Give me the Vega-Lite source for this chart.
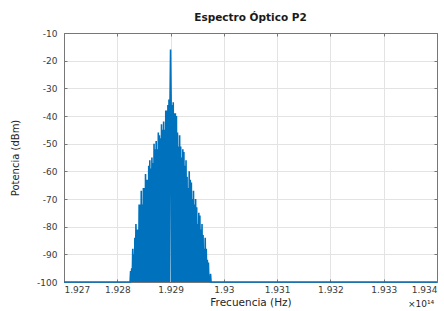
{
  "$schema": "https://vega.github.io/schema/vega-lite/v6.json",
  "width": 373,
  "height": 249,
  "autosize": {"type": "none"},
  "padding": {"left": 64, "top": 33, "right": 7, "bottom": 29},
  "background": "white",
  "config": {
    "view": {"stroke": null},
    "font": "DejaVu Sans"
  },
  "title": {
    "text": "Espectro Óptico P2",
    "font": "DejaVu Sans",
    "fontSize": 10.5,
    "fontWeight": "bold",
    "color": "#1a1a1a",
    "offset": 6,
    "anchor": "middle"
  },
  "data": {
    "values": [
      {"f": 1.927, "p": -100},
      {"f": 1.92824, "p": -100},
      {"f": 1.92825, "p": -96},
      {"f": 1.92826, "p": -100},
      {"f": 1.92827, "p": -95},
      {"f": 1.92828, "p": -100},
      {"f": 1.92829, "p": -88},
      {"f": 1.9283, "p": -100},
      {"f": 1.92831, "p": -90},
      {"f": 1.92832, "p": -100},
      {"f": 1.92833, "p": -84},
      {"f": 1.92834, "p": -100},
      {"f": 1.92835, "p": -79},
      {"f": 1.92836, "p": -100},
      {"f": 1.92837, "p": -81},
      {"f": 1.92838, "p": -100},
      {"f": 1.92839, "p": -81},
      {"f": 1.9284, "p": -100},
      {"f": 1.92841, "p": -72},
      {"f": 1.92842, "p": -100},
      {"f": 1.92843, "p": -72},
      {"f": 1.92844, "p": -100},
      {"f": 1.92845, "p": -67},
      {"f": 1.92846, "p": -100},
      {"f": 1.92847, "p": -72},
      {"f": 1.92848, "p": -100},
      {"f": 1.92849, "p": -66},
      {"f": 1.9285, "p": -100},
      {"f": 1.92851, "p": -66},
      {"f": 1.92852, "p": -100},
      {"f": 1.92853, "p": -61},
      {"f": 1.92854, "p": -100},
      {"f": 1.92855, "p": -63},
      {"f": 1.92856, "p": -100},
      {"f": 1.92857, "p": -63},
      {"f": 1.92858, "p": -100},
      {"f": 1.92859, "p": -58},
      {"f": 1.9286, "p": -100},
      {"f": 1.92861, "p": -56},
      {"f": 1.92862, "p": -100},
      {"f": 1.92863, "p": -59},
      {"f": 1.92864, "p": -100},
      {"f": 1.92865, "p": -55},
      {"f": 1.92866, "p": -100},
      {"f": 1.92867, "p": -57},
      {"f": 1.92868, "p": -100},
      {"f": 1.92869, "p": -50},
      {"f": 1.9287, "p": -100},
      {"f": 1.92871, "p": -52},
      {"f": 1.92872, "p": -100},
      {"f": 1.92873, "p": -49},
      {"f": 1.92874, "p": -100},
      {"f": 1.92875, "p": -52},
      {"f": 1.92876, "p": -100},
      {"f": 1.92877, "p": -46},
      {"f": 1.92878, "p": -100},
      {"f": 1.92879, "p": -47},
      {"f": 1.9288, "p": -100},
      {"f": 1.92881, "p": -48},
      {"f": 1.92882, "p": -100},
      {"f": 1.92883, "p": -43},
      {"f": 1.92884, "p": -100},
      {"f": 1.92885, "p": -45},
      {"f": 1.92886, "p": -100},
      {"f": 1.92887, "p": -42},
      {"f": 1.92888, "p": -100},
      {"f": 1.92889, "p": -45},
      {"f": 1.9289, "p": -100},
      {"f": 1.92891, "p": -38},
      {"f": 1.92892, "p": -100},
      {"f": 1.92893, "p": -38},
      {"f": 1.92894, "p": -100},
      {"f": 1.92895, "p": -36},
      {"f": 1.92896, "p": -100},
      {"f": 1.92897, "p": -34},
      {"f": 1.92898, "p": -100},
      {"f": 1.92899, "p": -34},
      {"f": 1.929, "p": -16},
      {"f": 1.92901, "p": -34},
      {"f": 1.92902, "p": -100},
      {"f": 1.92903, "p": -36},
      {"f": 1.92904, "p": -100},
      {"f": 1.92905, "p": -35},
      {"f": 1.92906, "p": -100},
      {"f": 1.92907, "p": -39},
      {"f": 1.92908, "p": -100},
      {"f": 1.92909, "p": -39},
      {"f": 1.9291, "p": -100},
      {"f": 1.92911, "p": -40},
      {"f": 1.92912, "p": -100},
      {"f": 1.92913, "p": -46},
      {"f": 1.92914, "p": -100},
      {"f": 1.92915, "p": -51},
      {"f": 1.92916, "p": -100},
      {"f": 1.92917, "p": -47},
      {"f": 1.92918, "p": -100},
      {"f": 1.92919, "p": -51},
      {"f": 1.9292, "p": -100},
      {"f": 1.92921, "p": -55},
      {"f": 1.92922, "p": -100},
      {"f": 1.92923, "p": -52},
      {"f": 1.92924, "p": -100},
      {"f": 1.92925, "p": -53},
      {"f": 1.92926, "p": -100},
      {"f": 1.92927, "p": -58},
      {"f": 1.92928, "p": -100},
      {"f": 1.92929, "p": -56},
      {"f": 1.9293, "p": -100},
      {"f": 1.92931, "p": -62},
      {"f": 1.92932, "p": -100},
      {"f": 1.92933, "p": -66},
      {"f": 1.92934, "p": -100},
      {"f": 1.92935, "p": -60},
      {"f": 1.92936, "p": -100},
      {"f": 1.92937, "p": -63},
      {"f": 1.92938, "p": -100},
      {"f": 1.92939, "p": -64},
      {"f": 1.9294, "p": -100},
      {"f": 1.92941, "p": -70},
      {"f": 1.92942, "p": -100},
      {"f": 1.92943, "p": -67},
      {"f": 1.92944, "p": -100},
      {"f": 1.92945, "p": -72},
      {"f": 1.92946, "p": -100},
      {"f": 1.92947, "p": -70},
      {"f": 1.92948, "p": -100},
      {"f": 1.92949, "p": -73},
      {"f": 1.9295, "p": -100},
      {"f": 1.92951, "p": -79},
      {"f": 1.92952, "p": -100},
      {"f": 1.92953, "p": -75},
      {"f": 1.92954, "p": -100},
      {"f": 1.92955, "p": -76},
      {"f": 1.92956, "p": -100},
      {"f": 1.92957, "p": -81},
      {"f": 1.92958, "p": -100},
      {"f": 1.92959, "p": -79},
      {"f": 1.9296, "p": -100},
      {"f": 1.92961, "p": -83},
      {"f": 1.92962, "p": -100},
      {"f": 1.92963, "p": -88},
      {"f": 1.92964, "p": -100},
      {"f": 1.92965, "p": -84},
      {"f": 1.92966, "p": -100},
      {"f": 1.92967, "p": -88},
      {"f": 1.92968, "p": -100},
      {"f": 1.92969, "p": -92},
      {"f": 1.9297, "p": -100},
      {"f": 1.92971, "p": -93},
      {"f": 1.92972, "p": -100},
      {"f": 1.92973, "p": -99},
      {"f": 1.92974, "p": -100},
      {"f": 1.92975, "p": -97},
      {"f": 1.92976, "p": -100},
      {"f": 1.934, "p": -100}
    ]
  },
  "layer": [
    {
      "mark": {"type": "line", "color": "#0072BD", "strokeWidth": 1.6, "clip": false},
      "encoding": {
        "x": {
          "field": "f", "type": "quantitative",
          "scale": {"domain": [1.927, 1.934], "nice": false, "zero": false},
          "axis": {
            "orient": "bottom",
            "title": "Frecuencia (Hz)",
            "values": [1.927, 1.928, 1.929, 1.93, 1.931, 1.932, 1.933, 1.934],
            "labelExpr": "format(datum.value, '.4~f')",
            "grid": true, "gridColor": "#e3e3e3", "gridWidth": 1,
            "domainColor": "#777777", "domainWidth": 1,
            "tickColor": "#777777", "tickSize": -3,
            "labelColor": "#3a3a3a", "labelFontSize": 9, "labelFont": "DejaVu Sans",
            "labelPadding": 6,
            "titleColor": "#262626", "titleFontSize": 10.5, "titleFont": "DejaVu Sans", "titleFontWeight": "normal",
            "titlePadding": 3
          }
        },
        "y": {
          "field": "p", "type": "quantitative",
          "scale": {"domain": [-100, -10], "nice": false, "zero": false},
          "axis": {
            "orient": "left",
            "title": "Potencia (dBm)",
            "values": [-100, -90, -80, -70, -60, -50, -40, -30, -20, -10],
            "labelExpr": "'' + datum.value",
            "grid": true, "gridColor": "#e3e3e3", "gridWidth": 1,
            "domainColor": "#777777", "domainWidth": 1,
            "tickColor": "#777777", "tickSize": -3,
            "labelColor": "#3a3a3a", "labelFontSize": 9, "labelFont": "DejaVu Sans",
            "labelPadding": 10,
            "titleColor": "#262626", "titleFontSize": 10, "titleFont": "DejaVu Sans", "titleFontWeight": "normal",
            "titlePadding": 16
          }
        }
      }
    },
    {
      "mark": {"type": "line", "opacity": 0},
      "encoding": {
        "x": {
          "field": "f", "type": "quantitative",
          "scale": {"domain": [1.927, 1.934], "nice": false, "zero": false},
          "axis": {
            "orient": "top", "title": null, "labels": false, "grid": false,
            "values": [1.927, 1.928, 1.929, 1.93, 1.931, 1.932, 1.933, 1.934],
            "domainColor": "#777777", "domainWidth": 1,
            "tickColor": "#777777", "tickSize": -3
          }
        },
        "y": {
          "field": "p", "type": "quantitative",
          "scale": {"domain": [-100, -10], "nice": false, "zero": false},
          "axis": {
            "orient": "right", "title": null, "labels": false, "grid": false,
            "values": [-100, -90, -80, -70, -60, -50, -40, -30, -20, -10],
            "domainColor": "#777777", "domainWidth": 1,
            "tickColor": "#777777", "tickSize": -3
          }
        }
      }
    },
    {
      "data": {"values": [{"label": "×10¹⁴"}]},
      "mark": {"type": "text", "font": "DejaVu Sans", "fontSize": 9, "color": "#262626", "align": "center", "baseline": "middle"},
      "encoding": {
        "text": {"field": "label"},
        "x": {"datum": 1.9337, "type": "quantitative", "axis": null},
        "y": {"datum": -107.8, "type": "quantitative", "axis": null}
      }
    }
  ],
  "resolve": {"axis": {"x": "independent", "y": "independent"}}
}
